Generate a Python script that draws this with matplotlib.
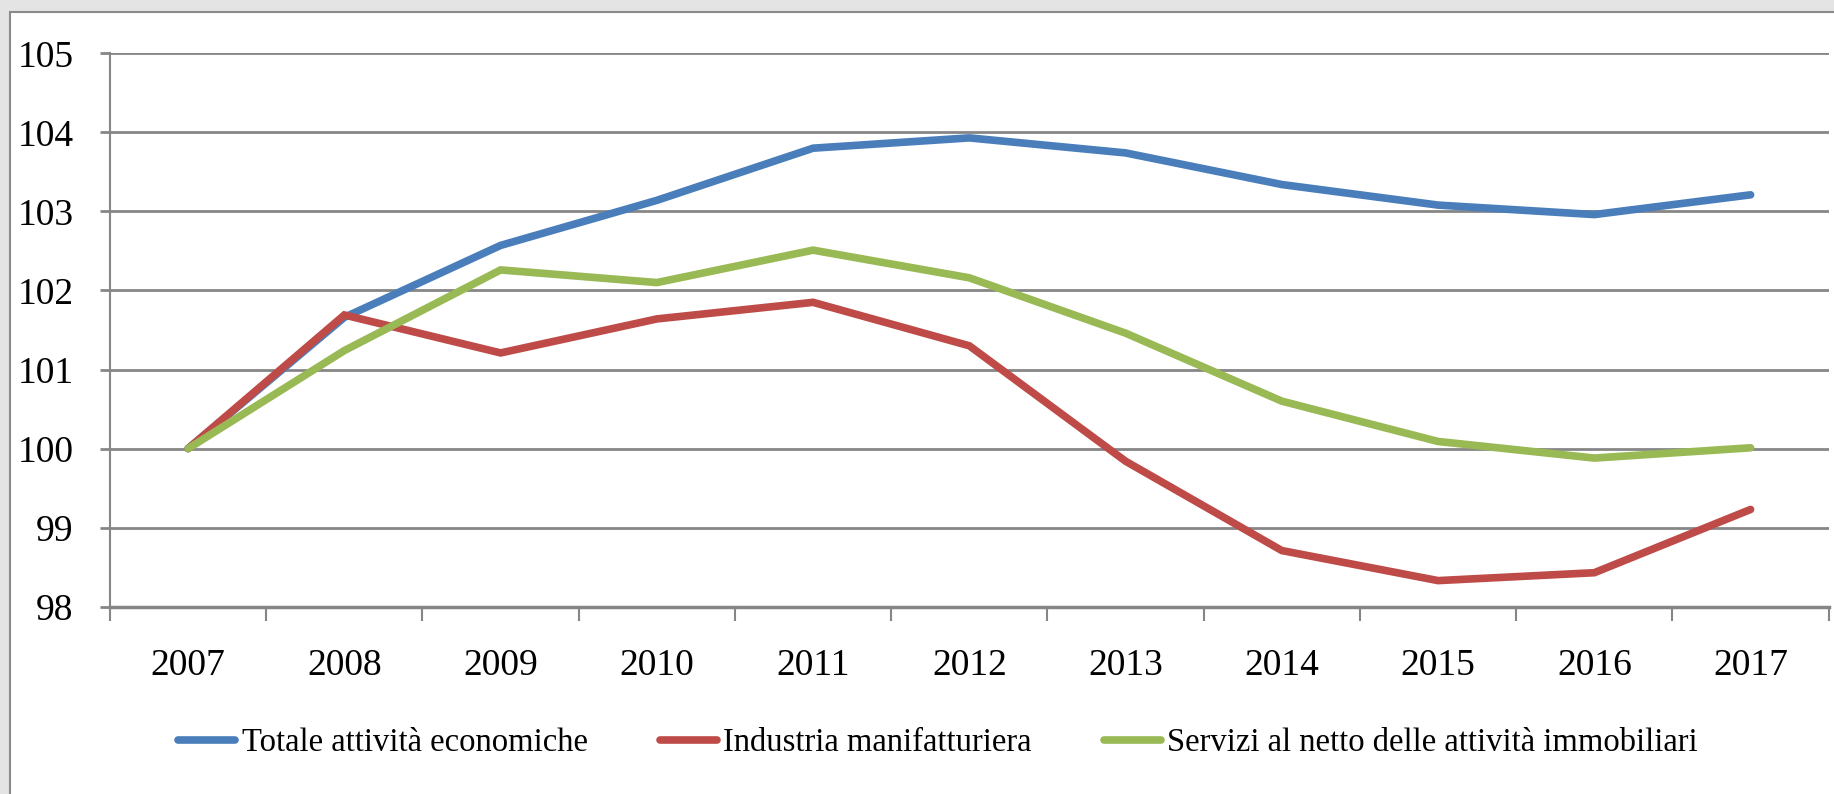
import numpy as np
import matplotlib
matplotlib.use('Agg')
import matplotlib.pyplot as plt
from matplotlib.patches import Rectangle

# ================================
# DATA
# ================================

years = ["2007", "2008", "2009", "2010", "2011", "2012",
         "2013", "2014", "2015", "2016", "2017"]

totale = [100.0, 101.66, 102.57, 103.14, 103.80, 103.93,
          103.74, 103.34, 103.08, 102.96, 103.21]
industria = [100.0, 101.69, 101.21, 101.64, 101.85, 101.30,
             99.84, 98.71, 98.33, 98.43, 99.23]
servizi = [100.0, 101.24, 102.26, 102.10, 102.51, 102.16,
           101.46, 100.60, 100.09, 99.88, 100.01]

labels = ["Totale attività economiche",
          "Industria manifatturiera",
          "Servizi al netto delle attività immobiliari"]
colors = ["#4a7ebb", "#be4b48", "#98b954"]

# ================================
# FIGURE
# ================================

plt.rcParams['font.family'] = ['Liberation Serif', 'DejaVu Serif']

W, H = 1834, 794
fig = plt.figure(figsize=(W / 100, H / 100), dpi=100)
fig.patch.set_facecolor("#e4e4e4")

# white chart area with grey frame on left/top
fig.patches.append(Rectangle((10 / W, -1), 2, 1 + 782 / H,
                             transform=fig.transFigure, facecolor="white",
                             edgecolor="#8a8a8a", linewidth=1.5, zorder=-10))

ax = fig.add_axes([110 / W, 187.3 / H, 1718.7 / W, 553.4 / H])
ax.set_facecolor("none")

x = np.arange(len(years))
for vals, lab, col in zip([totale, industria, servizi], labels, colors):
    ax.plot(x, vals, color=col, lw=5.5, label=lab,
            solid_capstyle='round', solid_joinstyle='miter', zorder=3)

ax.set_xlim(-0.5, len(years) - 0.5)
ax.set_ylim(98, 105)
ax.set_yticks(np.arange(98, 106, 1))
ax.yaxis.grid(True, color="#868686", lw=2)
ax.set_axisbelow(True)

ax.set_xticks(x)
ax.set_xticklabels(years)
ax.set_xticks(np.arange(-0.5, len(years), 1), minor=True)
ax.tick_params(axis='x', which='major', length=0, pad=30, labelsize=27)
ax.tick_params(axis='x', which='minor', length=10, width=1.5,
               color="#868686", direction='out')
ax.tick_params(axis='y', length=7.2, width=2, color="#868686",
               pad=19, labelsize=27)

for s in ["top", "right"]:
    ax.spines[s].set_visible(False)
ax.spines["left"].set_color("#868686")
ax.spines["left"].set_linewidth(1.5)
ax.spines["bottom"].set_color("#868686")
ax.spines["bottom"].set_linewidth(2.5)

fig.legend(loc='center', bbox_to_anchor=(0.5115, 0.0642), ncol=3,
           frameon=False, fontsize=23.5, handlelength=1.75,
           handletextpad=0.2, columnspacing=2.2)

fig.savefig("out.png", dpi=100, facecolor=fig.get_facecolor())
